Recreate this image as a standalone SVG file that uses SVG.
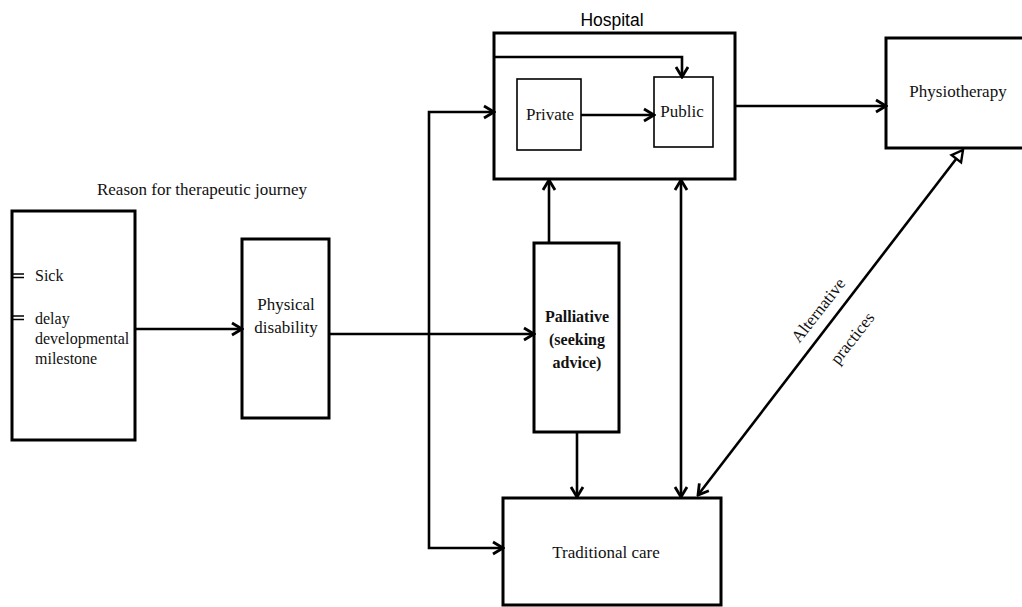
<svg xmlns="http://www.w3.org/2000/svg" width="1022" height="607" viewBox="0 0 1022 607">
<style>
.box{fill:#fff;stroke:#000;stroke-width:3}
.ibox{fill:#fff;stroke:#000;stroke-width:1.6}
.ser{font-family:"Liberation Serif","Times New Roman",serif;font-size:17px;fill:#111}
.san{font-family:"Liberation Sans",Arial,sans-serif;font-size:17.5px;fill:#000}
.f16{font-size:16px}
.b{font-weight:bold}
.c{stroke:#000;stroke-width:2.6;fill:none}
.mid{text-anchor:middle}
</style>
<defs>
<marker id="a" markerUnits="userSpaceOnUse" viewBox="-12 -8 14 16" refX="0" refY="0" markerWidth="14" markerHeight="16" orient="auto-start-reverse">
<path d="M-10,-6 L0,0 L-10,6" fill="none" stroke="#000" stroke-width="2.8"/>
</marker>
<marker id="t" markerUnits="userSpaceOnUse" viewBox="-14 -9 16 18" refX="0" refY="0" markerWidth="16" markerHeight="18" orient="auto">
<path d="M-11,-6 L0,0 L-11,6 Z" fill="#fff" stroke="#000" stroke-width="2.4"/>
</marker>
</defs>
<rect width="1022" height="607" fill="#fff"/>

<text class="ser mid" x="202" y="195">Reason for therapeutic journey</text>
<text class="san mid" x="612" y="26">Hospital</text>

<g id="reason">
<rect class="box" x="12" y="211" width="123" height="229"/>
<path d="M12,274 H24 M12,277.5 H24 M12,316 H24 M12,319.5 H24" stroke="#000" stroke-width="1.4"/>
<text class="ser f16" x="35" y="281">Sick</text>
<text class="ser f16" x="35" y="324">delay</text>
<text class="ser f16" x="35" y="344">developmental</text>
<text class="ser f16" x="35" y="364">milestone</text>
</g>

<g id="physical">
<rect class="box" x="242" y="239" width="87" height="179"/>
<text class="ser mid" x="286" y="310">Physical</text>
<text class="ser mid" x="286" y="333">disability</text>
</g>

<g id="palliative">
<rect class="box" x="534" y="243" width="85" height="189"/>
<text class="ser mid f16 b" x="577" y="322">Palliative</text>
<text class="ser mid f16 b" x="577" y="345">(seeking</text>
<text class="ser mid f16 b" x="577" y="368">advice)</text>
</g>

<g id="traditional">
<rect class="box" x="503" y="498" width="218" height="107"/>
<text class="ser mid" x="606" y="558">Traditional care</text>
</g>

<g id="hospital">
<rect class="box" x="494" y="33" width="241" height="146"/>
</g>

<g id="private">
<rect class="ibox" x="517" y="79" width="64" height="71"/>
<text class="ser mid" x="550" y="120">Private</text>
</g>

<g id="public">
<rect class="ibox" x="654" y="77" width="59" height="70"/>
<text class="ser mid" x="682" y="117">Public</text>
</g>

<g id="physiotherapy">
<rect class="box" x="886" y="38" width="140" height="110"/>
<text class="ser mid" x="958" y="97">Physiotherapy</text>
</g>

<g id="connectors">
<line class="c" x1="135" y1="329" x2="242" y2="329" marker-end="url(#a)"/>
<line class="c" x1="329" y1="334" x2="534" y2="334" marker-end="url(#a)"/>
<path class="c" d="M494,112 H429 V548 H503" marker-start="url(#a)" marker-end="url(#a)"/>
<line class="c" x1="549" y1="243" x2="549" y2="180" marker-end="url(#a)"/>
<line class="c" x1="577" y1="432" x2="577" y2="497" marker-end="url(#a)"/>
<line class="c" x1="681" y1="180" x2="681" y2="497" marker-start="url(#a)" marker-end="url(#a)"/>
<line class="c" x1="735" y1="106" x2="886" y2="106" marker-end="url(#a)"/>
<path class="c" d="M494,57 H682 V77" marker-end="url(#a)"/>
<line class="c" x1="581" y1="115" x2="654" y2="115" marker-end="url(#a)"/>
<line class="c" x1="698" y1="495" x2="963" y2="150" marker-start="url(#a)" marker-end="url(#t)"/>
<text class="ser mid" transform="translate(818,310) rotate(-52)" y="6">Alternative</text>
<text class="ser mid" transform="translate(852,338) rotate(-52)" y="6">practices</text>
</g>
</svg>
